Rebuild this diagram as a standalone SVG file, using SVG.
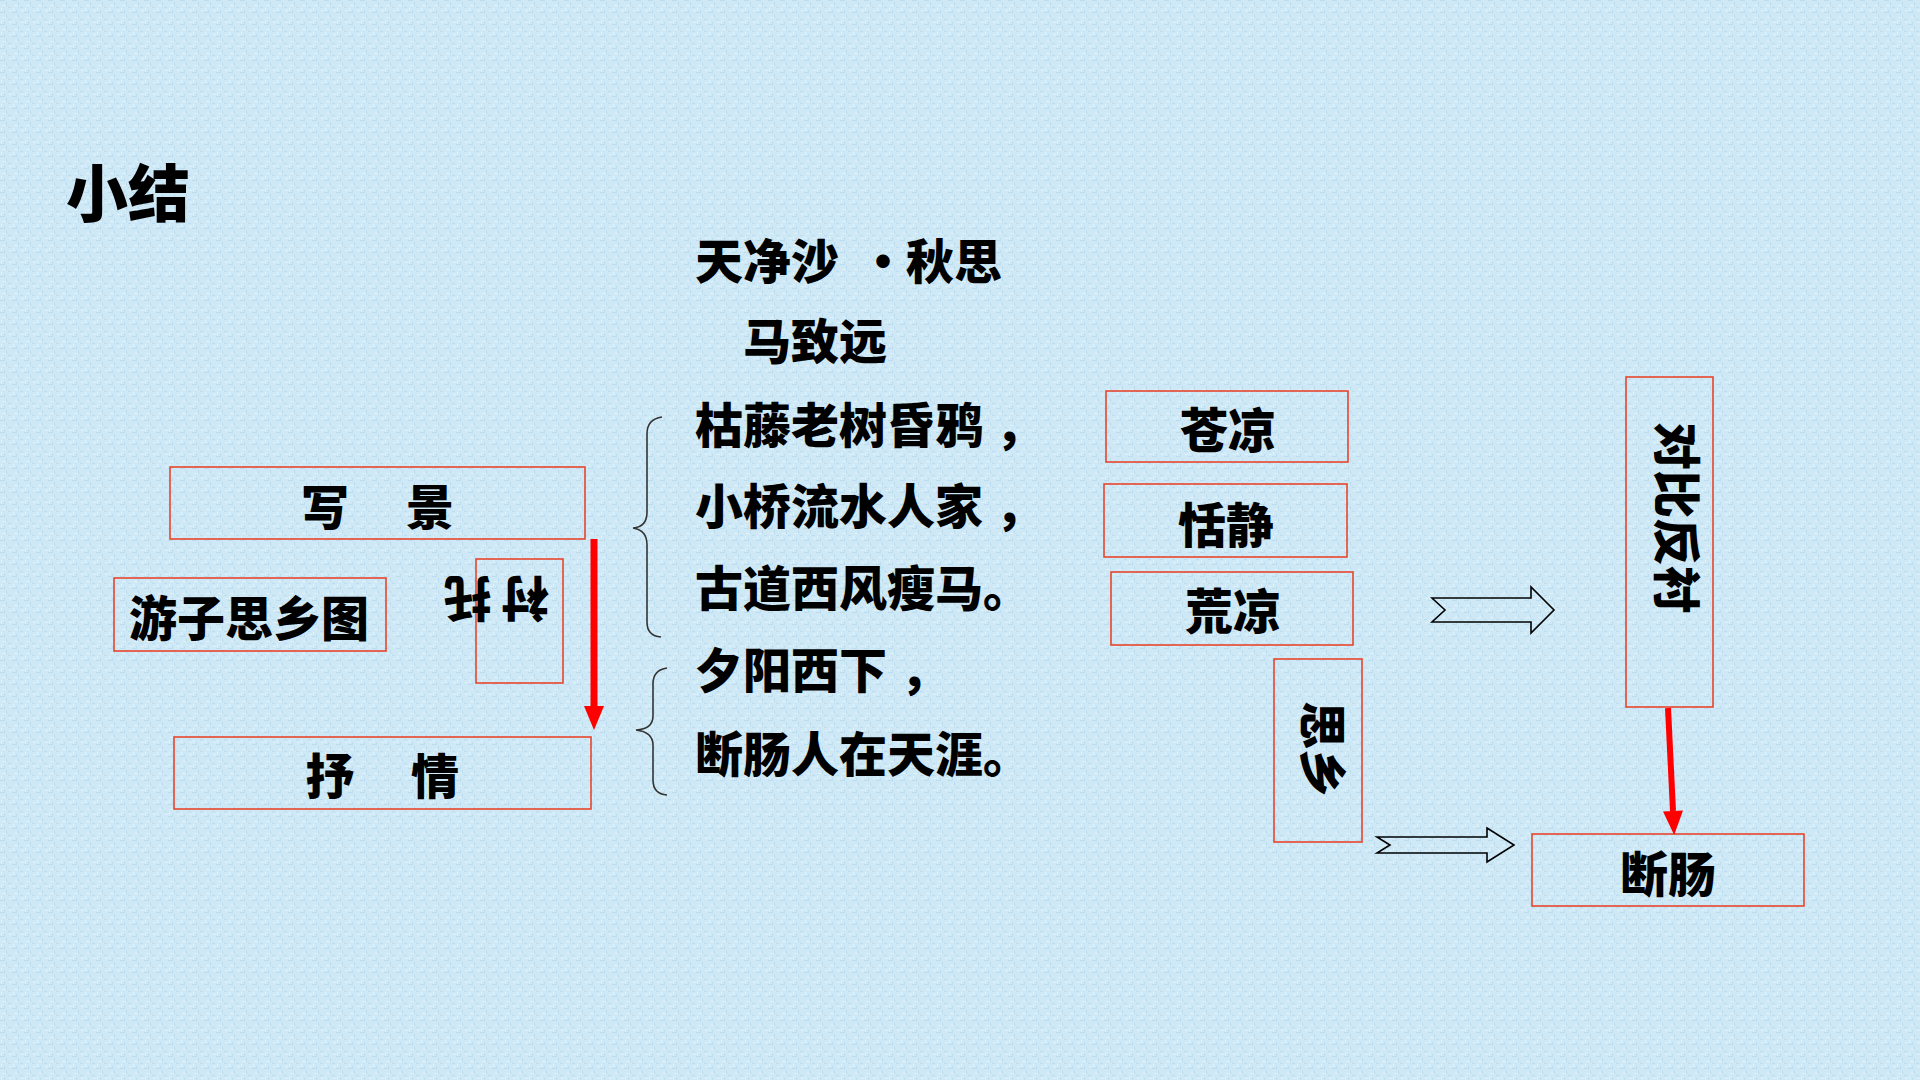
<svg xmlns="http://www.w3.org/2000/svg" width="1920" height="1080" viewBox="0 0 1920 1080">
<defs>
<style>
.t{font-family:"Noto Sans CJK SC","Noto Sans CJK TC",sans-serif;font-weight:900;font-size:48px;fill:#000}
.box{fill:none;stroke:#e8452c;stroke-width:1.6}
.red{stroke:#ff0000;stroke-width:7;fill:none}
.hollow{fill:none;stroke:#000;stroke-width:1.6;stroke-linejoin:miter}
.brace{fill:none;stroke:#333;stroke-width:1.6}
</style>
<pattern id="tex" width="12" height="12" patternUnits="userSpaceOnUse">
<rect width="12" height="12" fill="#cfe8f6"/>
<rect x="0" y="0" width="5" height="1" fill="#bcdcef"/>
<rect x="6" y="2" width="1" height="4" fill="#bcdcef"/>
<rect x="2" y="5" width="4" height="1" fill="#e2f2fb"/>
<rect x="8" y="7" width="3" height="1" fill="#bcdcef"/>
<rect x="1" y="8" width="1" height="3" fill="#e2f2fb"/>
<rect x="9" y="10" width="3" height="1" fill="#e2f2fb"/>
<rect x="4" y="10" width="1" height="2" fill="#bcdcef"/>
</pattern>
<marker id="redHead" markerUnits="userSpaceOnUse" markerWidth="26" markerHeight="24" refX="0" refY="0" orient="auto" overflow="visible">
<path d="M0,-10 L24,0 L0,10 Z" fill="#ff0000"/>
</marker>
</defs>
<rect width="1920" height="1080" fill="url(#tex)"/>

<g id="title"><text class="t" x="66" y="217" style="font-size:62px">小结</text></g>

<g id="poem">
<text class="t" y="279"><tspan x="695">天净沙</tspan><tspan x="883" text-anchor="middle">·</tspan><tspan x="906">秋思</tspan></text>
<text class="t" x="743" y="359">马致远</text>
<text class="t" x="695" y="443">枯藤老树昏鸦<tspan dx="12">，</tspan></text>
<text class="t" x="695" y="524">小桥流水人家<tspan dx="12">，</tspan></text>
<text class="t" x="695" y="606">古道西风瘦马。</text>
<text class="t" x="695" y="688">夕阳西下<tspan dx="13">，</tspan></text>
<text class="t" x="695" y="772">断肠人在天涯。</text>
</g>

<g id="braces">
<path class="brace" d="M662,417 Q647,419 647,434 L647,512 Q647,527 633,528 Q647,530 647,545 L647,622 Q647,636 661,637"/>
<path class="brace" d="M667,668 Q653,670 653,684 L653,716 Q653,729 636,730 Q653,732 653,745 L653,780 Q653,794 667,795"/>
</g>

<g id="node-xiejing">
<rect class="box" x="170" y="467" width="415" height="72"/>
<text class="t" y="525" text-anchor="middle"><tspan x="325">写</tspan><tspan x="430">景</tspan></text>
</g>
<g id="node-youzi">
<rect class="box" x="114" y="578" width="272" height="73"/>
<text class="t" x="249" y="636" text-anchor="middle">游子思乡图</text>
</g>
<g id="node-chentuo">
<rect class="box" x="476" y="559" width="87" height="124"/>
<text class="t" transform="translate(496.5,597.5) rotate(180)" y="17" text-anchor="middle"><tspan x="-28.5">衬</tspan><tspan x="29">托</tspan></text>
</g>
<g id="node-shuqing">
<rect class="box" x="174" y="737" width="417" height="72"/>
<text class="t" y="794" text-anchor="middle"><tspan x="330">抒</tspan><tspan x="435">情</tspan></text>
</g>

<g id="node-cangliang">
<rect class="box" x="1106" y="391" width="242" height="71"/>
<text class="t" x="1228" y="448" text-anchor="middle">苍凉</text>
</g>
<g id="node-tianjing">
<rect class="box" x="1104" y="484" width="243" height="73"/>
<text class="t" x="1226" y="543" text-anchor="middle">恬静</text>
</g>
<g id="node-huangliang">
<rect class="box" x="1111" y="572" width="242" height="73"/>
<text class="t" x="1233" y="629" text-anchor="middle">荒凉</text>
</g>
<g id="node-sixiang">
<rect class="box" x="1274" y="659" width="88" height="183"/>
<text class="t" transform="translate(1322,749) rotate(90)" x="0" y="17" text-anchor="middle">思乡</text>
</g>
<g id="node-duibi">
<rect class="box" x="1626" y="377" width="87" height="330"/>
<text class="t" transform="translate(1676,518) rotate(90)" x="0" y="17" text-anchor="middle">对比反衬</text>
</g>
<g id="node-duanchang">
<rect class="box" x="1532" y="834" width="272" height="72"/>
<text class="t" x="1668" y="892" text-anchor="middle">断肠</text>
</g>

<g id="connectors">
<line class="red" x1="594" y1="539" x2="594" y2="706" marker-end="url(#redHead)"/>
<line class="red" x1="1668" y1="708" x2="1673" y2="811" style="stroke-width:6" marker-end="url(#redHead)"/>
<polygon class="hollow" points="1432,598 1531,598 1531,587 1554,610 1531,633 1531,622 1432,622 1445,610"/>
<polygon class="hollow" points="1377,837 1487,837 1487,828 1514,845 1487,862 1487,853 1377,853 1390,845"/>
</g>
</svg>
